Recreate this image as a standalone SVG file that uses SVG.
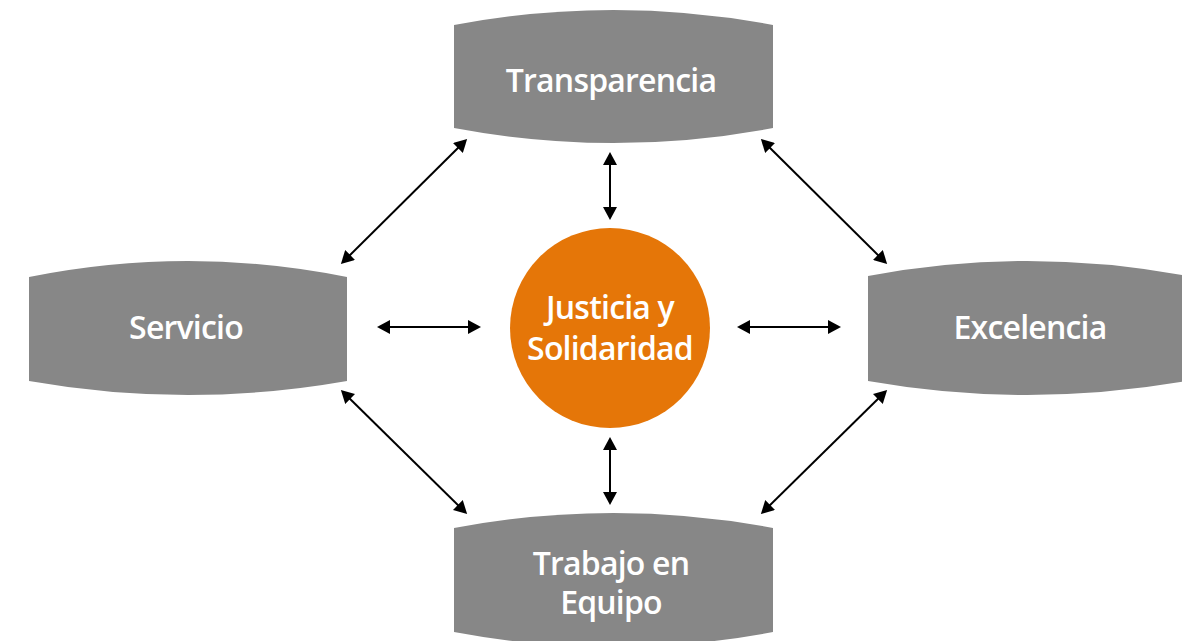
<svg xmlns="http://www.w3.org/2000/svg" width="1182" height="641" viewBox="0 0 1182 641">
<defs>
<marker id="ah" markerWidth="14" markerHeight="14" refX="10" refY="7" orient="auto-start-reverse" markerUnits="userSpaceOnUse">
<path d="M0,0 L13,7 L0,14 Z" fill="#000"/>
</marker>
<style>
.box{fill:#878787}
.lbl{fill:#fff;font-family:"Open Sans","Liberation Sans",sans-serif;font-size:32px;font-weight:600;text-anchor:middle;letter-spacing:-0.8px}
.con{stroke:#000;stroke-width:2;fill:none;marker-start:url(#ah);marker-end:url(#ah)}
</style>
</defs>
<rect width="1182" height="641" fill="#fff"/>
<g id="connectors">
<line class="con" x1="465" y1="141" x2="343" y2="262"/>
<line class="con" x1="763" y1="141" x2="885" y2="262"/>
<line class="con" x1="343" y1="392" x2="465" y2="512"/>
<line class="con" x1="885" y1="392" x2="763" y2="512"/>
<line class="con" x1="610" y1="155" x2="610" y2="217"/>
<line class="con" x1="610" y1="440" x2="610" y2="502"/>
<line class="con" x1="380" y1="327" x2="478" y2="327"/>
<line class="con" x1="740" y1="327" x2="838" y2="327"/>
</g>
<g id="transparencia">
<path class="box" d="M454,25 Q613.5,-5 773,25 L773,128 Q613.5,158 454,128 Z"/>
<text class="lbl" x="611" y="92">Transparencia</text>
</g>
<g id="servicio">
<path class="box" d="M29,277 Q188,245 347,277 L347,381 Q188,409 29,381 Z"/>
<text class="lbl" x="186" y="339">Servicio</text>
</g>
<g id="excelencia">
<path class="box" d="M868,276 Q1027,246 1187,276 L1187,381 Q1027,409 868,381 Z"/>
<text class="lbl" x="1030" y="339">Excelencia</text>
</g>
<g id="trabajo">
<path class="box" d="M454,528 Q613.5,498 773,528 L773,632 Q613.5,662 454,632 Z"/>
<text class="lbl" x="611" y="575">Trabajo en</text>
<text class="lbl" x="611" y="614">Equipo</text>
</g>
<g id="justicia">
<circle cx="610" cy="328" r="100" fill="#E57608"/>
<text class="lbl" x="610" y="319">Justicia y</text>
<text class="lbl" x="610" y="360">Solidaridad</text>
</g>
</svg>
